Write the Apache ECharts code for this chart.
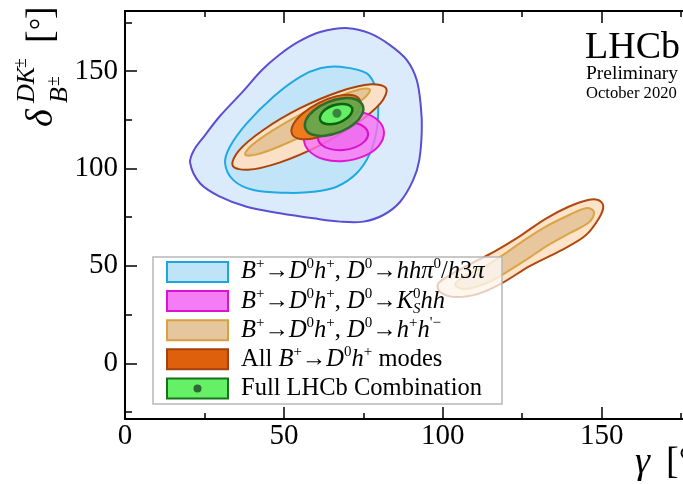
<!DOCTYPE html>
<html>
<head>
<meta charset="utf-8">
<script src="https://cdn.jsdelivr.net/npm/echarts@6/dist/echarts.min.js"></script>
<style>
  html, body { margin: 0; padding: 0; background: #fff; }
  #chart { width: 683px; height: 484px; }
</style>
</head>
<body>
<div id="chart"></div>
<script>
const SERIF = "'Liberation Serif', 'Times New Roman', serif";

// Axis ranges and tick positions
const gammaRange = [0, 180];
const deltaRange = [-28.6, 180.8];
const gammaMajor = [0, 50, 100, 150];
const gammaMinor = [25, 75, 125, 175];
const deltaMajor = [0, 50, 100, 150];
const deltaMinor = [-25, 25, 75, 125, 175];

// Confidence regions, vertices as [gamma, delta] in degrees
// B+ -> D0 h+, D0 -> hh pi0 / h3pi
const hhpi0Outer = [
  [70.2, 172.0], [77.1, 169.3], [83.4, 163.3], [88.7, 155.6], [91.8, 145.4], [93.1, 131.7],
  [93.4, 119.7], [92.6, 104.3], [90.7, 94.1], [86.6, 82.9], [81.3, 76.1], [75.0, 72.7],
  [67.7, 72.7], [59.3, 74.4], [48.8, 77.0], [38.3, 80.3], [29.9, 85.5], [23.6, 92.4],
  [20.5, 102.8], [21.7, 109.4], [25.2, 117.1], [29.9, 126.9], [37.5, 140.2], [43.1, 150.5],
  [48.5, 158.2], [54.5, 164.9], [61.4, 170.0]
];
const hhpi0Inner = [
  [67.7, 152.2], [76.1, 148.8], [79.2, 140.2], [79.7, 131.7], [79.2, 119.7], [77.1, 107.7],
  [72.9, 97.5], [66.6, 90.6], [59.3, 88.0], [50.9, 87.5], [40.4, 88.9], [34.1, 94.0],
  [31.5, 102.6], [33.0, 111.1], [38.3, 123.1], [46.7, 136.8], [55.1, 147.0], [61.4, 151.4]
];
// B+ -> D0 h+, D0 -> KS hh
const kshhOuter = [
  [81.5, 118.3], [79.8, 124.4], [75.2, 128.5], [68.9, 129.4], [62.6, 127.0], [58.0, 121.7],
  [56.3, 115.1], [58.0, 108.9], [62.6, 104.7], [68.9, 103.8], [75.2, 106.3], [79.8, 111.5]
];
const kshhInner = [
  [76.5, 117.6], [75.4, 121.1], [72.6, 123.3], [68.6, 123.8], [64.7, 122.3], [61.8, 119.3],
  [60.7, 115.6], [61.8, 112.2], [64.7, 109.9], [68.6, 109.4], [72.6, 110.9], [75.4, 113.9]
];
// B+ -> D0 h+, D0 -> h+ h'-  (two solutions)
const hhOuterA = [
  [82.2, 141.0], [80.5, 133.6], [72.7, 122.8], [61.0, 111.6], [48.6, 103.0], [38.6, 99.3],
  [33.9, 101.4], [35.7, 108.9], [43.4, 119.6], [55.1, 130.9], [67.6, 139.5], [77.5, 143.2]
];
const hhInnerA = [
  [77.1, 140.5], [75.2, 136.0], [68.5, 128.2], [58.9, 119.2], [48.9, 111.5], [41.2, 107.1],
  [37.8, 107.1], [39.7, 111.6], [46.4, 119.4], [56.0, 128.4], [66.0, 136.1], [73.7, 140.5]
];
const hhOuterB = [
  [150.5, 80.7], [149.2, 74.6], [144.8, 65.4], [136.9, 57.7], [127.5, 50.0], [118.2, 40.7],
  [111.1, 35.6], [103.9, 34.0], [99.2, 36.6], [98.5, 40.7], [102.3, 45.3], [108.6, 50.9],
  [116.5, 57.6], [124.3, 65.3], [132.2, 74.0], [139.4, 80.2], [145.7, 83.8], [148.9, 83.8]
];
const hhInnerB = [
  [147.6, 77.6], [146.1, 72.5], [140.1, 66.9], [132.8, 60.2], [127.5, 54.5], [121.2, 47.9],
  [113.9, 41.2], [107.0, 38.1], [103.9, 40.2], [106.4, 44.3], [113.9, 50.4], [119.0, 55.6],
  [124.3, 61.7], [131.6, 69.4], [139.1, 75.6], [145.4, 79.7]
];
// All B+ -> D0 h+ modes
const allDhOuter = [
  [73.9, 135.2], [73.6, 130.4], [70.6, 124.4], [65.6, 119.0], [59.9, 115.6], [55.2, 115.1],
  [52.6, 117.5], [52.9, 122.4], [56.0, 128.3], [61.0, 133.7], [66.6, 137.1], [71.4, 137.7]
];
// Full LHCb combination
const fullOuter = [
  [74.8, 132.3], [74.6, 127.8], [72.0, 122.7], [67.7, 118.8], [62.9, 116.8], [58.9, 117.4],
  [56.8, 120.4], [57.0, 125.0], [59.6, 130.0], [63.9, 134.0], [68.7, 136.0], [72.7, 135.4]
];
const fullInner = [
  [71.5, 130.9], [71.2, 128.3], [69.8, 125.7], [67.4, 123.5], [64.7, 122.7], [62.5, 123.2],
  [61.4, 124.9], [61.6, 127.5], [63.0, 130.2], [65.4, 132.3], [68.1, 133.1], [70.3, 132.6]
];
const bestFit = [[66.7, 128.3]];

// Legend entries
const legendLabels = [
  '{i|B}{s|+}{r|→}{i|D}{s|0}{i|h}{s|+}{r|, }{i|D}{s|0}{r|→}{i|hhπ}{s|0}{r|/}{i|h}{r|3}{i|π}',
  '{i|B}{s|+}{r|→}{i|D}{s|0}{i|h}{s|+}{r|, }{i|D}{s|0}{r|→}{i|K}{z|0}{b|S}{i|hh}',
  '{i|B}{s|+}{r|→}{i|D}{s|0}{i|h}{s|+}{r|, }{i|D}{s|0}{r|→}{i|h}{s|+}{i|h}{s|\'−}',
  '{r|All }{i|B}{s|+}{r|→}{i|D}{s|0}{i|h}{s|+}{r| modes}',
  '{r|Full LHCb Combination}'
];
const legendFill = ['#bfe3f7', '#f47cf4', '#e6c69c', '#df600c', '#66f066'];
const legendEdge = ['#1aa6e0', '#dc12d0', '#d8a040', '#a3420e', '#17731b'];

function contour(points, fill, stroke, lineWidth) {
  return {
    type: 'custom',
    coordinateSystem: 'cartesian2d',
    xAxisIndex: 0,
    yAxisIndex: 0,
    silent: true,
    data: points,
    renderItem: function (params, api) {
      if (params.dataIndex !== 0) return null;
      return {
        type: 'polygon',
        shape: { points: points.map(function (p) { return api.coord(p); }), smooth: 0.35 },
        style: { fill: fill, stroke: stroke, lineWidth: lineWidth }
      };
    }
  };
}

function valueAxis(range, position, ticks, len, showLine, labels) {
  return {
    type: 'value',
    position: position,
    min: range[0],
    max: range[1],
    axisLine: { show: showLine, onZero: false, lineStyle: { color: '#000', width: 2 } },
    axisTick: { show: true, inside: true, length: len, customValues: ticks, lineStyle: { color: '#000', width: 1.5 } },
    axisLabel: labels ? {
      show: true, customValues: labels, fontFamily: SERIF, fontSize: 29, color: '#000',
      margin: position === 'bottom' ? 3 : 7
    } : { show: false },
    splitLine: { show: false }
  };
}

const chart = echarts.init(document.getElementById('chart'), null, { renderer: 'canvas' });

const legendChildren = [{
  type: 'rect',
  shape: { x: 153, y: 257, width: 349, height: 147 },
  style: { fill: 'rgba(255,255,255,0.72)', stroke: '#b8b8b8', lineWidth: 1.5 },
  z: 100
}];
const richStyles = {
  i: { fontFamily: SERIF, fontStyle: 'italic', fontSize: 24.5, lineHeight: 30, color: '#000' },
  r: { fontFamily: SERIF, fontSize: 24.5, lineHeight: 30, color: '#000' },
  s: { fontFamily: SERIF, fontSize: 15, lineHeight: 20, verticalAlign: 'top', color: '#000' },
  z: { fontFamily: SERIF, fontSize: 15, lineHeight: 20, verticalAlign: 'top', width: 0, color: '#000' },
  b: { fontFamily: SERIF, fontStyle: 'italic', fontSize: 15, lineHeight: 12, verticalAlign: 'bottom', color: '#000' }
};
legendLabels.forEach(function (label, k) {
  const cy = 272 + k * 29.1;
  legendChildren.push({
    type: 'rect',
    shape: { x: 167, y: cy - 10, width: 61, height: 20 },
    style: { fill: legendFill[k], stroke: legendEdge[k], lineWidth: 2 },
    z: 101
  });
  legendChildren.push({
    type: 'text',
    x: 241, y: cy,
    style: { text: label, rich: richStyles, align: 'left', textAlign: 'left', verticalAlign: 'middle', textVerticalAlign: 'middle' },
    z: 101
  });
});
legendChildren.push({
  type: 'circle',
  shape: { cx: 197.5, cy: 272 + 4 * 29.1, r: 4 },
  style: { fill: '#2d6a33' },
  z: 102
});

function label(text, x, y, size, italic, align) {
  return {
    type: 'text', x: x, y: y, z: 50,
    style: {
      text: text, fill: '#000',
      font: (italic ? 'italic ' : '') + size + 'px ' + SERIF,
      align: align || 'left', textAlign: align || 'left',
      verticalAlign: 'middle', textVerticalAlign: 'middle'
    }
  };
}

const option = {
  backgroundColor: '#fff',
  animation: false,
  grid: { left: 125, top: 11, right: -14, bottom: 65, containLabel: false, outerBoundsMode: 'none' },
  xAxis: [
    valueAxis(gammaRange, 'bottom', gammaMajor, 12, true, gammaMajor),
    valueAxis(gammaRange, 'top', gammaMajor, 12, true, null),
    valueAxis(gammaRange, 'bottom', gammaMinor, 6, false, null),
    valueAxis(gammaRange, 'top', gammaMinor, 6, false, null)
  ],
  yAxis: [
    valueAxis(deltaRange, 'left', deltaMajor, 12, true, deltaMajor),
    valueAxis(deltaRange, 'right', deltaMajor, 12, true, null),
    valueAxis(deltaRange, 'left', deltaMinor, 7, false, null),
    valueAxis(deltaRange, 'right', deltaMinor, 7, false, null)
  ],
  series: [
    contour(hhpi0Outer, '#dcebfc', '#5a4fd2', 2),
    contour(hhpi0Inner, '#c2e4f8', '#1ea9e3', 2),
    contour(hhOuterA, '#f9e0c6', '#ad4208', 2),
    contour(hhInnerA, '#e7c59b', '#d9a342', 2),
    contour(kshhOuter, 'rgba(255,112,242,0.78)', '#de18d2', 2),
    contour(kshhInner, 'rgba(236,92,236,0.55)', '#d810cc', 2),
    contour(hhOuterB, '#fce3c9', '#b3480e', 2),
    contour(hhInnerB, '#e8c69e', '#daa548', 2),
    contour(allDhOuter, '#ef7b1f', '#a5450f', 2),
    contour(fullOuter, 'rgba(98,168,76,0.92)', '#2c6c2e', 2.5),
    contour(fullInner, '#66ef66', '#0b650f', 2.5),
    {
      type: 'scatter', xAxisIndex: 0, yAxisIndex: 0, silent: true,
      data: bestFit, symbol: 'circle', symbolSize: 9,
      itemStyle: { color: '#2d6a33' }
    }
  ],
  graphic: [
    { type: 'group', children: legendChildren },
    label('LHCb', 585, 48, 38, false),
    label('Preliminary', 586, 73.5, 19.5, false),
    label('October 2020', 586, 94, 16.6, false),
    // horizontal axis title
    label('γ', 650, 463, 38, true, 'right'),
    label('[°]', 666, 463, 38, false),
    // vertical axis title, rotated to read upwards
    {
      type: 'group', x: 55, y: 127, rotation: Math.PI / 2,
      children: [
        label('δ', 0, -12.9, 38, true),
        label('DK', 24, -27.8, 26, true),
        label('±', 59, -34, 18, false),
        label('B', 24, 5.2, 26, true),
        label('±', 41, -1.1, 18, false),
        label('[', 84, -12.9, 38, false),
        label('°', 97, -12.9, 30, false),
        label(']', 108, -12.9, 38, false)
      ]
    }
  ]
};

chart.setOption(option);
</script>
</body>
</html>
